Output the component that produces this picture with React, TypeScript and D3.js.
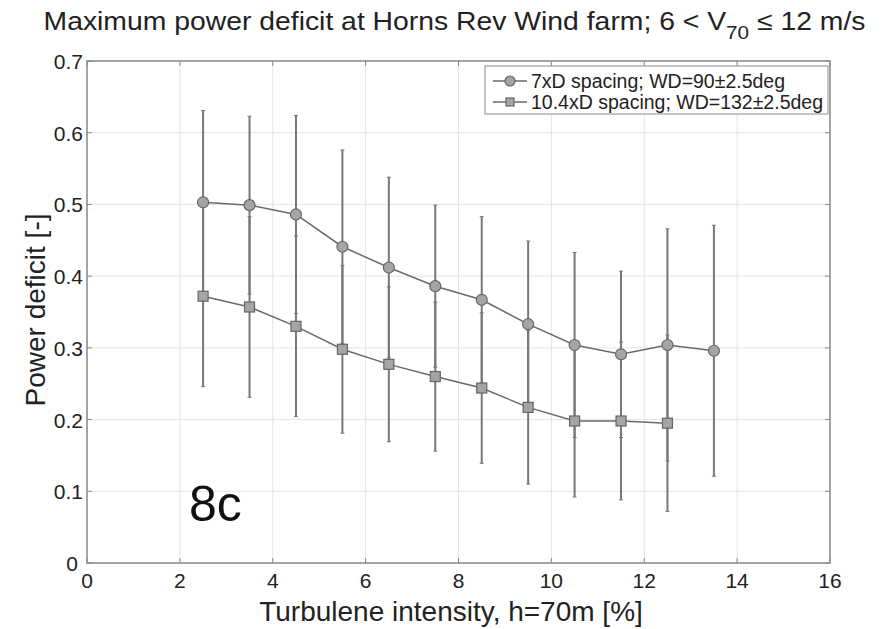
import React from "react";
import * as d3 from "d3";

const xTicks = [0, 2, 4, 6, 8, 10, 12, 14, 16];
const yTicks = [0, 0.1, 0.2, 0.3, 0.4, 0.5, 0.6, 0.7];

const xs7D = [2.5, 3.5, 4.5, 5.5, 6.5, 7.5, 8.5, 9.5, 10.5, 11.5, 12.5, 13.5];
const mean7D = [0.503, 0.499, 0.486, 0.441, 0.412, 0.386, 0.367, 0.333, 0.304, 0.291, 0.304, 0.296];
const err7D = [0.128, 0.124, 0.138, 0.135, 0.126, 0.113, 0.116, 0.116, 0.129, 0.116, 0.162, 0.175];

const xs10D = [2.5, 3.5, 4.5, 5.5, 6.5, 7.5, 8.5, 9.5, 10.5, 11.5, 12.5];
const mean10D = [0.372, 0.357, 0.330, 0.298, 0.277, 0.260, 0.244, 0.217, 0.198, 0.198, 0.195];
const err10D = [0.126, 0.126, 0.126, 0.117, 0.108, 0.104, 0.105, 0.107, 0.106, 0.110, 0.123];

const legendLabels = ["7xD spacing; WD=90\u00b12.5deg", "10.4xD spacing; WD=132\u00b12.5deg"];

const W = 889;
const H = 629;
const left = 87, right = 830, top = 61, bottom = 563;
const font = "'Liberation Sans', Arial, sans-serif";

export default function App() {
  const x = d3.scaleLinear().domain([0, 16]).range([left, right]);
  const y = d3.scaleLinear().domain([0, 0.7]).range([bottom, top]);
  const line = d3.line<[number, number]>().x(d => x(d[0])).y(d => y(d[1]));

  const s1 = xs7D.map((v, i) => [v, mean7D[i]] as [number, number]);
  const s2 = xs10D.map((v, i) => [v, mean10D[i]] as [number, number]);

  const lineColor = "#6a6a6a";
  const markerFill = "#a5a5a5";
  const markerStroke = "#666";
  const errColor = "#777";

  const errBars = (xsArr: number[], m: number[], e: number[], key: string) =>
    xsArr.map((v, i) => {
      const cx = x(v);
      const y1 = y(m[i] + e[i]);
      const y2 = y(m[i] - e[i]);
      return (
        <g key={key + i}>
          <line x1={cx} x2={cx} y1={y1} y2={y2} stroke={errColor} strokeWidth={2} />
          <line x1={cx - 2} x2={cx + 2} y1={y1} y2={y1} stroke={errColor} strokeWidth={1} />
          <line x1={cx - 2} x2={cx + 2} y1={y2} y2={y2} stroke={errColor} strokeWidth={1} />
        </g>
      );
    });

  return (
    <div style={{ position: "absolute", left: 0, top: 0 }}>
      <svg width={W} height={H} style={{ display: "block", background: "#fff" }}>
        <rect x={0} y={0} width={W} height={H} fill="#fff" />
        {/* grid */}
        {xTicks.map(t => (
          <line key={"gx" + t} x1={x(t)} x2={x(t)} y1={top} y2={bottom} stroke="#e4e4e4" strokeWidth={1} />
        ))}
        {yTicks.map(t => (
          <line key={"gy" + t} x1={left} x2={right} y1={y(t)} y2={y(t)} stroke="#e4e4e4" strokeWidth={1} />
        ))}
        {/* axes box */}
        <rect x={left} y={top} width={right - left} height={bottom - top} fill="none" stroke="#8a8a8a" strokeWidth={1.5} />
        {/* ticks */}
        {xTicks.map(t => (
          <g key={"tx" + t}>
            <line x1={x(t)} x2={x(t)} y1={bottom} y2={bottom - 5} stroke="#8a8a8a" />
            <line x1={x(t)} x2={x(t)} y1={top} y2={top + 5} stroke="#8a8a8a" />
            <text x={x(t)} y={bottom + 25} textAnchor="middle" fontFamily={font} fontSize={21} fill="#222">{t}</text>
          </g>
        ))}
        {yTicks.map(t => (
          <g key={"ty" + t}>
            <line x1={left} x2={left + 5} y1={y(t)} y2={y(t)} stroke="#8a8a8a" />
            <line x1={right} x2={right - 5} y1={y(t)} y2={y(t)} stroke="#8a8a8a" />
            <text x={t === 0 ? left - 9 : left - 4} y={y(t) + 8} textAnchor="end" fontFamily={font} fontSize={21} fill="#222">{t === 0 ? "0" : t.toFixed(1)}</text>
          </g>
        ))}
        {/* error bars */}
        {errBars(xs7D, mean7D, err7D, "e1")}
        {errBars(xs10D, mean10D, err10D, "e2")}
        {/* lines */}
        <path d={line(s1) || ""} fill="none" stroke={lineColor} strokeWidth={1.5} />
        <path d={line(s2) || ""} fill="none" stroke={lineColor} strokeWidth={1.5} />
        {/* markers */}
        {s1.map((d, i) => (
          <circle key={"c" + i} cx={x(d[0])} cy={y(d[1])} r={5.5} fill={markerFill} stroke={markerStroke} strokeWidth={1.2} />
        ))}
        {s2.map((d, i) => (
          <rect key={"s" + i} x={x(d[0]) - 5} y={y(d[1]) - 5} width={10} height={10} fill={markerFill} stroke={markerStroke} strokeWidth={1.2} />
        ))}
        {/* 8c */}
        <text x={189} y={521} fontFamily={font} fontSize={50} fill="#111">8c</text>
        {/* legend */}
        <rect x={485} y={66} width={343} height={48} fill="#fff" stroke="#8a8a8a" strokeWidth={1} />
        <g>
          <line x1={493} x2={527} y1={81} y2={81} stroke={lineColor} strokeWidth={1.5} />
          <circle cx={510} cy={81} r={5} fill={markerFill} stroke={markerStroke} strokeWidth={1.2} />
          <text x={531} y={88} fontFamily={font} fontSize={19.5} fill="#222">{legendLabels[0]}</text>
          <line x1={493} x2={527} y1={102} y2={102} stroke={lineColor} strokeWidth={1.5} />
          <rect x={506} y={98} width={8} height={8} fill={markerFill} stroke={markerStroke} strokeWidth={1.2} />
          <text x={531} y={109} fontFamily={font} fontSize={19.5} fill="#222">{legendLabels[1]}</text>
        </g>
        {/* title */}
        <g transform="translate(454.5,30) scale(1.09,1)">
          <text x={0} y={0} textAnchor="middle" fontFamily={font} fontSize={26} fill="#222">
            Maximum power deficit at Horns Rev Wind farm; 6 &lt; V
            <tspan fontSize={19} dy={9}>70</tspan>
            <tspan dy={-9}> ≤ 12 m/s</tspan>
          </text>
        </g>
        {/* axis labels */}
        <text x={451} y={621} textAnchor="middle" fontFamily={font} fontSize={28} fill="#222">Turbulene intensity, h=70m [%]</text>
        <text transform={`translate(45,310) rotate(-90)`} textAnchor="middle" fontFamily={font} fontSize={28} fill="#222">Power deficit [-]</text>
      </svg>
    </div>
  );
}
